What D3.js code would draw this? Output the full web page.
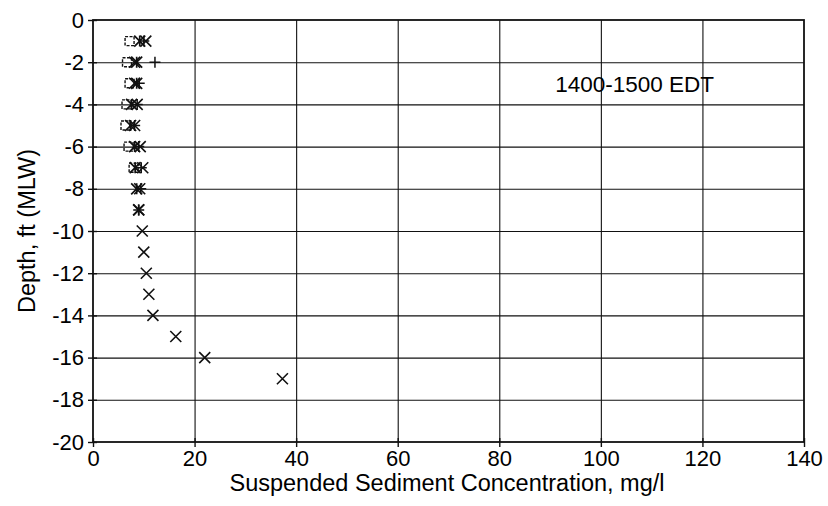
<!DOCTYPE html>
<html>
<head>
<meta charset="utf-8">
<script src="https://cdn.jsdelivr.net/npm/d3@7"></script>
<style>
  html, body { margin: 0; padding: 0; background: #fff; }
  svg { display: block; }
  text { font-family: "Liberation Sans", Arial, sans-serif; fill: #000; }
</style>
</head>
<body>
<svg id="chart" width="828" height="506"></svg>
<script>
// ---- data ----
const xTicks = [0, 20, 40, 60, 80, 100, 120, 140];
const yTicks = [0, -2, -4, -6, -8, -10, -12, -14, -16, -18, -20];

const squareDepths = [-1, -2, -3, -4, -5, -6, -7];
const squareVals   = [7.2, 6.7, 7.2, 6.6, 6.4, 7.0, 8.0];

const asteriskDepths = [-1, -2, -3, -4, -5, -6, -7, -8, -9];
const asteriskVals   = [9.2, 8.6, 8.6, 7.6, 7.4, 8.2, 8.3, 8.6, 9.0];

const plusDepths = [-1, -2, -3, -4, -5, -6, -7, -8, -9];
const plusVals   = [10.0, 12.2, 9.1, 8.7, 8.2, 9.0, 9.5, 9.4, 9.0];

const xDepths = [-1, -2, -3, -4, -5, -6, -7, -8, -9, -10, -11, -12, -13, -14, -15, -16, -17];
const xVals   = [10.4, 8.2, 8.2, 8.7, 8.2, 9.3, 9.8, 9.2, 9.0, 9.7, 10.0, 10.5, 11.0, 11.8, 16.3, 22.0, 37.3];

const annotation = "1400-1500 EDT";
const xTitle = "Suspended Sediment Concentration, mg/l";
const yTitle = "Depth, ft (MLW)";

// ---- layout ----
const svg = d3.select("#chart");
const pL = 93, pR = 804, pT = 20, pB = 442;
const x = d3.scaleLinear().domain([0, 140]).range([pL, pR]);
const y = d3.scaleLinear().domain([0, -20]).range([pT, pB]);
const ink = "#111";
const fnt = "Liberation Sans, Arial, sans-serif";

// gridlines
svg.append("g").selectAll("line").data(yTicks.slice(1, -1)).join("line")
  .attr("x1", pL).attr("x2", pR)
  .attr("y1", d => y(d) + 0.5).attr("y2", d => y(d) + 0.5)
  .attr("stroke", ink).attr("stroke-width", 1.1);
svg.append("g").selectAll("line").data(xTicks.slice(1, -1)).join("line")
  .attr("y1", pT).attr("y2", pB)
  .attr("x1", d => x(d) + 0.5).attr("x2", d => x(d) + 0.5)
  .attr("stroke", ink).attr("stroke-width", 1.1);

// frame
svg.append("rect").attr("x", pL).attr("y", pT)
  .attr("width", pR - pL).attr("height", pB - pT)
  .attr("fill", "none").attr("stroke", ink).attr("stroke-width", 1.8);

// axes
const xAxis = d3.axisBottom(x).tickValues(xTicks).tickFormat(d => String(d))
  .tickSizeInner(5).tickSizeOuter(0).tickPadding(3);
const gx = svg.append("g").attr("transform", `translate(0,${pB})`).call(xAxis);
gx.select(".domain").remove();
gx.selectAll(".tick line").attr("stroke", ink).attr("stroke-width", 1.4).attr("y1", -4);
gx.selectAll(".tick text").attr("font-size", 22).attr("font-family", fnt).attr("fill", "#000");

const yAxis = d3.axisLeft(y).tickValues(yTicks).tickFormat(d => String(d))
  .tickSizeInner(5).tickSizeOuter(0).tickPadding(4);
const gy = svg.append("g").attr("transform", `translate(${pL},0)`).call(yAxis);
gy.select(".domain").remove();
gy.selectAll(".tick line").attr("stroke", ink).attr("stroke-width", 1.4).attr("x1", 4);
gy.selectAll(".tick text").attr("font-size", 22).attr("font-family", fnt).attr("fill", "#000");

// titles
svg.append("text").attr("x", 447).attr("y", 491)
  .attr("text-anchor", "middle").attr("font-size", 23.5).text(xTitle);
svg.append("text").attr("transform", `translate(35,${(pT + pB) / 2}) rotate(-90)`)
  .attr("text-anchor", "middle").attr("font-size", 23.5).text(yTitle);

svg.append("text").attr("x", x(91)).attr("y", y(-3.4)).attr("font-size", 22.5).text(annotation);

// markers
const r = 5.5;
const mk = svg.append("g").attr("stroke", ink).attr("fill", "none");

// squares
mk.selectAll("rect").data(squareDepths.map((d, i) => [squareVals[i], d])).join("rect")
  .attr("x", d => x(d[0]) - 4.5).attr("y", d => y(d[1]) - 4.5)
  .attr("width", 9).attr("height", 9).attr("stroke-width", 1.4)
  .attr("stroke-dasharray", "3,1.5");

// plus
mk.append("g").selectAll("path").data(plusDepths.map((d, i) => [plusVals[i], d])).join("path")
  .attr("d", d => { const cx = x(d[0]), cy = y(d[1]);
    return `M${cx - r},${cy}H${cx + r}M${cx},${cy - r}V${cy + r}`; })
  .attr("stroke-width", 1.5);

// asterisk
mk.append("g").selectAll("path").data(asteriskDepths.map((d, i) => [asteriskVals[i], d])).join("path")
  .attr("d", d => { const cx = x(d[0]), cy = y(d[1]);
    return `M${cx - r},${cy - r}L${cx + r},${cy + r}M${cx - r},${cy + r}L${cx + r},${cy - r}M${cx},${cy - r}V${cy + r}`; })
  .attr("stroke-width", 1.7);

// x
mk.append("g").selectAll("path").data(xDepths.map((d, i) => [xVals[i], d])).join("path")
  .attr("d", d => { const cx = x(d[0]), cy = y(d[1]);
    return `M${cx - r},${cy - r}L${cx + r},${cy + r}M${cx - r},${cy + r}L${cx + r},${cy - r}`; })
  .attr("stroke-width", 1.6);
</script>
</body>
</html>
